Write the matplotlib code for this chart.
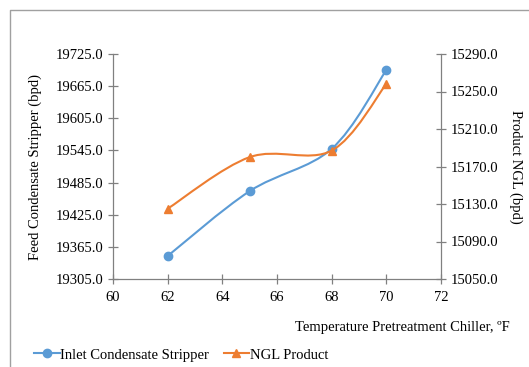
import numpy as np
import matplotlib.pyplot as plt
from matplotlib.path import Path
from matplotlib.patches import PathPatch
from matplotlib.lines import Line2D

plt.rcParams['font.family'] = ['Liberation Serif', 'DejaVu Serif']

# data
temps = [62, 65, 68, 70]
inlet_stripper = [19348, 19469, 19548, 19695]
ngl_product = [15125, 15180, 15187, 15258]
left_ticks = [19305.0, 19365.0, 19425.0, 19485.0, 19545.0, 19605.0, 19665.0, 19725.0]
right_ticks = [15050.0, 15090.0, 15130.0, 15170.0, 15210.0, 15250.0, 15290.0]
x_ticks = [60, 62, 64, 66, 68, 70, 72]

blue = '#5B9BD5'
orange = '#ED7D31'
gray = '#808080'


def smooth_path(xs, ys, t=1/6):
    # Excel-style smoothed line: cubic bezier with catmull-rom control points
    pts = np.column_stack([xs, ys]).astype(float)
    verts = [pts[0]]
    codes = [Path.MOVETO]
    n = len(pts)
    for i in range(n - 1):
        p0 = pts[i - 1] if i > 0 else pts[i]
        p1 = pts[i]
        p2 = pts[i + 1]
        p3 = pts[i + 2] if i + 2 < n else pts[i + 1]
        c1 = p1 + (p2 - p0) * t
        c2 = p2 - (p3 - p1) * t
        verts += [c1, c2, p2]
        codes += [Path.CURVE4] * 3
    return Path(verts, codes)


fig = plt.figure(figsize=(5.29, 3.67), dpi=100)
W, H = 529, 367
ax = fig.add_axes([113 / W, 1 - 279 / H, (441 - 113) / W, (279 - 54) / H])
ax2 = ax.twinx()

ax.set_xlim(60, 72)
ax.set_ylim(19305, 19725)
ax2.set_ylim(15050, 15290)

ax.add_patch(PathPatch(smooth_path(temps, inlet_stripper), fc='none', ec=blue, lw=1.5))
ax.plot(temps, inlet_stripper, 'o', color=blue, ms=6)
ax2.add_patch(PathPatch(smooth_path(temps, ngl_product), fc='none', ec=orange, lw=1.5))
ax2.plot(temps, ngl_product, '^', color=orange, ms=6)

ax.set_xticks(x_ticks)
ax.set_yticks(left_ticks)
ax.set_yticklabels([f'{v:.1f}' for v in left_ticks])
ax2.set_yticks(right_ticks)
ax2.set_yticklabels([f'{v:.1f}' for v in right_ticks])

for a in (ax, ax2):
    a.spines['top'].set_visible(False)
    for s in ('left', 'right', 'bottom'):
        a.spines[s].set_color(gray)
        a.spines[s].set_linewidth(0.9)
    a.tick_params(direction='inout', length=7, width=0.9, color=gray,
                  labelsize=10.5, labelcolor='black')
ax.tick_params(axis='x', pad=5)
ax.spines['right'].set_visible(False)
ax2.spines['left'].set_visible(False)
ax2.spines['bottom'].set_visible(False)

fig.text(35 / W, 1 - 167 / H, 'Feed Condensate Stripper (bpd)', rotation=90,
         ha='center', va='center', fontsize=10.5)
fig.text(516 / W, 1 - 167 / H, 'Product NGL (bpd)', rotation=-90,
         ha='center', va='center', fontsize=10.5)
fig.text(510 / W, 1 - 328 / H, 'Temperature Pretreatment Chiller, \u00baF',
         ha='right', va='center', fontsize=10.5)

# legend
h1, = ax.plot([], [], '-o', color=blue, ms=6, lw=1.5)
h2, = ax.plot([], [], '-^', color=orange, ms=6, lw=1.5)
fig.legend([h1, h2], ['Inlet Condensate Stripper', 'NGL Product'],
           loc='center left', bbox_to_anchor=(34 / W, 1 - 355 / H), ncol=2,
           frameon=False, fontsize=10.5, handlelength=1.75, handletextpad=0.05,
           columnspacing=1.0, borderpad=0, borderaxespad=0)

# chart border (top and left edges only are inside the crop)
fig.add_artist(Line2D([10 / W, 10 / W, 1.0], [0.0, 1 - 10 / H, 1 - 10 / H],
                      transform=fig.transFigure, color='#a0a0a0', lw=1.0))

fig.savefig('out.png', dpi=100)
